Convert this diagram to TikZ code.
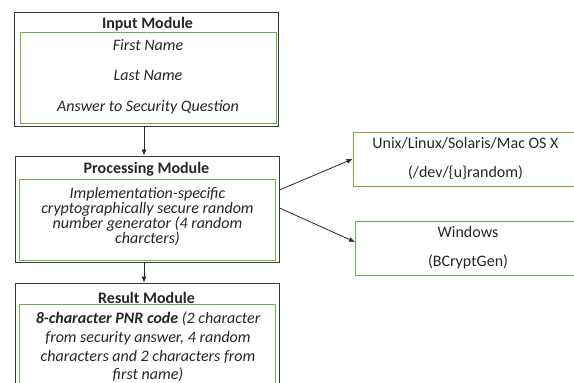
\documentclass[tikz,border=0pt]{standalone}
\usepackage{fontspec}
\setmainfont{Carlito}
\usetikzlibrary{arrows.meta,positioning}
\definecolor{cFrame}{HTML}{3A3A3A}
\definecolor{cGreen}{HTML}{70AD47}
\definecolor{cInk}{HTML}{262626}
\tikzset{
  module/.style={draw=cFrame, line width=0.9pt, minimum width=264pt, inner sep=0pt},
  content/.style={draw=cGreen, line width=0.9pt, minimum width=256pt, inner sep=0pt},
  platform/.style={draw=cGreen, line width=0.9pt, minimum width=225pt, minimum height=54pt,
     inner sep=0pt, align=center, text=cInk, font=\fontsize{16}{29}\selectfont},
  heading/.style={font=\fontsize{16}{19}\selectfont\bfseries, text=cInk, inner sep=0pt},
  body/.style={align=center, text=cInk, inner sep=0pt},
  flow/.style={-{Latex[length=6pt,width=5pt]}, line width=0.8pt, draw=cInk},
}

\begin{document}
\begin{tikzpicture}[x=1pt,y=-1pt]
  \clip (0,0) rectangle (574,383);
  % input module
  \node[module, minimum height=114pt] (inBox) at (146.5,69) {};
  \node[heading] (inHead) at (147.5,24) {Input Module};
  \node[content, minimum height=91pt] (inData) at (148,77.5) {};
  \node[body, font={\fontsize{16}{30.5}\selectfont\itshape}] (inText) at (148,76.5)
    {First Name\\Last Name\\Answer to Security Question};
  % processing module
  \node[module, minimum height=106pt] (procBox) at (147,209) {};
  \node[heading] (procHead) at (146.5,169) {Processing Module};
  \node[content, minimum width=255.5pt, minimum height=81pt] (procData) at (147.25,219.5) {};
  \node[body, font={\fontsize{16}{15}\selectfont\itshape\lineskiplimit=-8pt}] (procText) at (147.5,216.5)
    {Implementation-specific\\cryptographically secure random\\number generator (4 random\\charcters)};
  % result module
  \node[module, minimum height=112pt] (resBox) at (147,339) {};
  \node[heading] (resHead) at (146.5,298) {Result Module};
  \node[content, minimum width=255.5pt, minimum height=90pt] (resData) at (147.25,349) {};
  \node[body, font={\fontsize{16}{18.6}\selectfont\itshape\lineskiplimit=-8pt}] (resText) at (148,347)
    {\textbf{8-character PNR code} (2 character\\from security answer, 4 random\\characters and 2 characters from\\first name)};
  % random sources
  \node[platform] (unixBox) at (465.5,159) {Unix/Linux/Solaris/Mac OS X\\(/dev/\{u\}random)};
  \node[platform] (winBox) at (468,248) {Windows\\(BCryptGen)};

  \draw[flow] ([xshift=-2.5pt]inBox.south) -- ([xshift=-3pt]procBox.north);
  \draw[flow] ([xshift=-3pt]procBox.south) -- ([xshift=-3pt]resBox.north);
  \draw[flow] ([yshift=19pt]procBox.east) -- (unixBox.west);
  \draw[flow] ([yshift=1pt]procBox.east) -- ([yshift=6pt]winBox.west);
\end{tikzpicture}
\end{document}
